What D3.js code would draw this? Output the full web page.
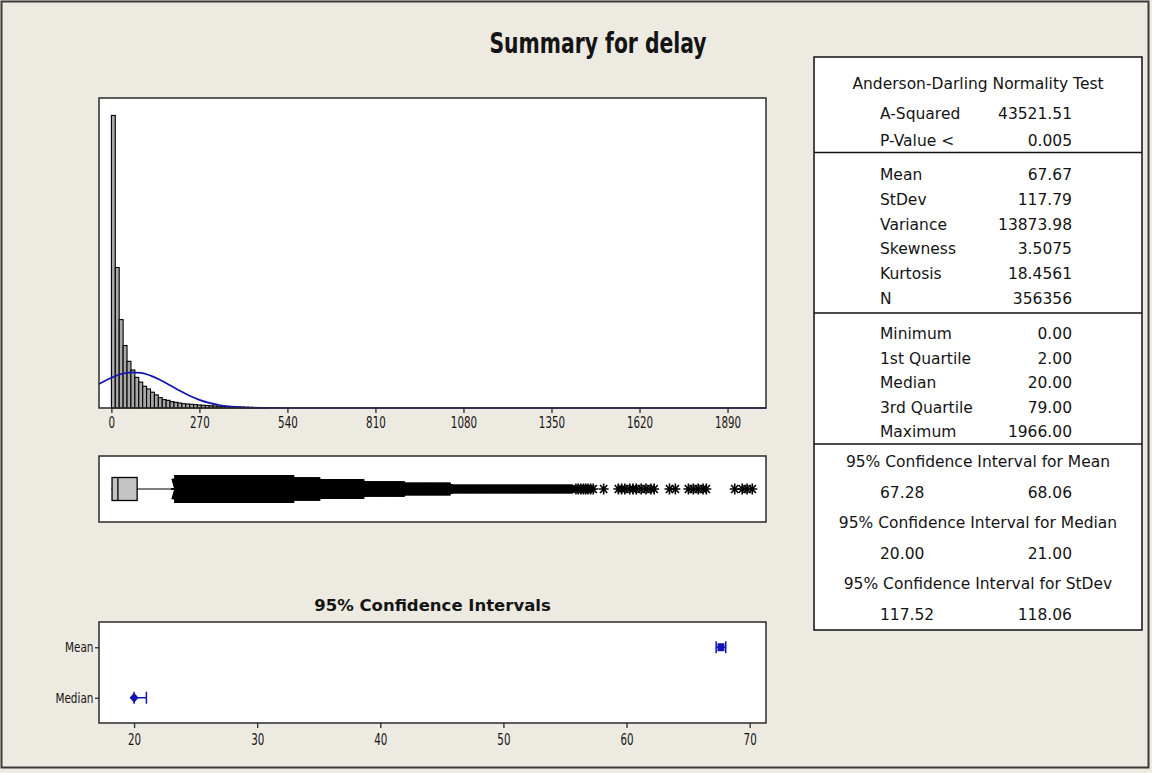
<!DOCTYPE html>
<html><head><meta charset="utf-8">
<script src="https://cdn.jsdelivr.net/npm/d3@7"></script>
<style>html,body{margin:0;padding:0;background:#EDEAE2;} svg{display:block;}</style>
</head><body><svg id="chart" width="1152" height="773"></svg>
<script>
// ---------------- DATA ----------------
const chartTitle = "Summary for delay";
const histBinStarts = [0,12,24,36,48,60,72,84,96,108,120,132,144,156,168,180,192,204,216,228,240,252,264,276,288,300,312,324,336,348,360,372,384,396,408,420,432,444,456,468];
const histBinWidth = 12;
const histCounts = [118500,56900,35800,25300,18900,15400,12400,10500,8800,7700,6400,5300,4200,3400,3100,2550,2300,2000,1750,1600,1500,1350,1200,1100,1000,900,820,750,680,600,540,480,420,370,320,280,240,200,160,130];
const histTicks = [0,270,540,810,1080,1350,1620,1890];
const normalCurveX = [-38,0,30,60,90,120,150,180,210,240,270,300,330,360,400,450,500,560,620,2008];
const normalCurveY = [9690,12280,13760,14450,14230,13120,11350,9190,6980,4970,3310,2070,1210,670,270,75,17,2,0,0];

const boxQuartiles = [2, 20, 79];          // Q1, median, Q3
const boxWhiskers = [0, 194];               // lower, upper whisker ends
const outlierRuns = [[195,560,300],[560,640,90],[640,775,40],[775,900,14],[900,1040,7],[1040,1415,3]]; // [from, to, count per value]
const outlierSingles = [1425,1432,1440,1448,1455,1462,1470,1478,1510,1555,1565,1575,1590,1600,1610,1625,1640,1655,1665,1712,1730,1770,1785,1800,1815,1825,1912,1935,1950,1966];

const ciCategories = ["Mean","Median"];
const ciCenters = [67.67, 20.00];
const ciLower = [67.28, 20.00];
const ciUpper = [68.06, 21.00];
const ciTicks = [20,30,40,50,60,70];

const adLabels = ["A-Squared","P-Value <"];
const adValues = ["43521.51","0.005"];
const momentLabels = ["Mean","StDev","Variance","Skewness","Kurtosis","N"];
const momentValues = ["67.67","117.79","13873.98","3.5075","18.4561","356356"];
const quantileLabels = ["Minimum","1st Quartile","Median","3rd Quartile","Maximum"];
const quantileValues = ["0.00","2.00","20.00","79.00","1966.00"];
const ciHeaders = ["95% Confidence Interval for Mean","95% Confidence Interval for Median","95% Confidence Interval for StDev"];
const ciTableLower = ["67.28","20.00","117.52"];
const ciTableUpper = ["68.06","21.00","118.06"];

// ---------------- DRAW ----------------
const svg = d3.select("#chart");
const BG = "#EDEAE2", INK = "#141414", BLUE = "#1414B4", FRAME = "#2b2b2b";
const narrow = "'Liberation Sans Narrow','DejaVu Sans Condensed',sans-serif";
const sans = "'DejaVu Sans',Verdana,sans-serif";

svg.append("rect").attr("x",0).attr("y",0).attr("width",1152).attr("height",773).attr("fill",BG);
svg.append("rect").attr("x",1.5).attr("y",1.5).attr("width",1147).attr("height",766)
  .attr("fill","none").attr("stroke","#3a3a3a").attr("stroke-width",2);

svg.append("text").attr("transform","translate(598,53) scale(0.78,1)").attr("text-anchor","middle")
  .attr("font-family",narrow).attr("font-weight","bold").attr("font-size",29).attr("fill",INK)
  .text(chartTitle);

// Histogram panel
const H = {l:99, r:766, t:98, b:408};
const x = d3.scaleLinear().domain([-38, 2008]).range([H.l, H.r]);
const y = d3.scaleLinear().domain([0, 125550]).range([H.b, H.t]);
svg.append("rect").attr("x",H.l).attr("y",H.t).attr("width",H.r-H.l).attr("height",H.b-H.t).attr("fill","#fff");

svg.append("g").selectAll("rect").data(histBinStarts).join("rect")
  .attr("x", d => x(d)).attr("width", d => x(d+histBinWidth)-x(d))
  .attr("y", (d,i) => y(histCounts[i])).attr("height", (d,i) => H.b - y(histCounts[i]))
  .attr("fill","#A8A8A8").attr("stroke","#000").attr("stroke-width",1.1);

const curvePts = normalCurveX.map((v,i)=>[v, normalCurveY[i]]);
svg.append("path").datum(curvePts)
  .attr("d", d3.line().x(d=>x(d[0])).y(d=>y(d[1])).curve(d3.curveMonotoneX))
  .attr("fill","none").attr("stroke",BLUE).attr("stroke-width",1.7);

svg.append("rect").attr("x",H.l).attr("y",H.t).attr("width",H.r-H.l).attr("height",H.b-H.t)
  .attr("fill","none").attr("stroke",FRAME).attr("stroke-width",1.5);

function styleTickText(sel, size){
  sel.selectAll("text").attr("font-family",narrow).attr("font-size",size).attr("fill",INK)
    .attr("transform","scale(0.74,1)");
}
const xAxis = svg.append("g").attr("transform",`translate(0,${H.b})`)
  .call(d3.axisBottom(x).tickValues(histTicks).tickSize(5).tickPadding(4).tickFormat(d3.format("d")));
xAxis.select(".domain").remove();
xAxis.selectAll("line").attr("stroke",FRAME).attr("stroke-width",1.3);
styleTickText(xAxis, 15.5);

// Boxplot panel
const B = {l:99, r:766, t:456, b:522};
const by = 489;
svg.append("rect").attr("x",B.l).attr("y",B.t).attr("width",B.r-B.l).attr("height",B.b-B.t)
  .attr("fill","#fff").attr("stroke",FRAME).attr("stroke-width",1.5);
const bg = svg.append("g");
bg.append("line").attr("x1",x(boxWhiskers[0])).attr("x2",x(boxQuartiles[0])).attr("y1",by).attr("y2",by).attr("stroke","#000");
bg.append("line").attr("x1",x(boxQuartiles[2])).attr("x2",x(boxWhiskers[1])).attr("y1",by).attr("y2",by).attr("stroke","#000").attr("stroke-width",1.2);
bg.append("rect").attr("x",x(boxQuartiles[0])).attr("width",x(boxQuartiles[2])-x(boxQuartiles[0]))
  .attr("y",by-11.5).attr("height",23).attr("fill","#C4C4C4").attr("stroke","#000").attr("stroke-width",1.3);
bg.append("line").attr("x1",x(boxQuartiles[1])).attr("x2",x(boxQuartiles[1])).attr("y1",by-11.5).attr("y2",by+11.5).attr("stroke","#000").attr("stroke-width",1.3);

function asterisk(w,h){
  const a=w*0.36, b=h*0.36;
  return `M${-w/2},0H${w/2}M0,${-h/2}V${h/2}M${-a},${-b}L${a},${b}M${-a},${b}L${a},${-b}`;
}
const hScale = d3.scaleLog().domain([2,300]).range([7,28]).clamp(true);
const runPts = [];
outlierRuns.forEach(([f,t,c]) => { for (let v=f; v<t; v++) runPts.push({v, c}); });
bg.append("g").selectAll("path").data(runPts).join("path")
  .attr("transform", d => `translate(${x(d.v)},${by})`)
  .attr("d", d => asterisk(8, hScale(d.c)))
  .attr("stroke","#000").attr("stroke-width",1.4).attr("fill","none");
bg.append("g").selectAll("path").data(outlierSingles).join("path")
  .attr("transform", d => `translate(${x(d)},${by})`)
  .attr("d", asterisk(10, 11))
  .attr("stroke","#000").attr("stroke-width",1.6).attr("fill","none");

// CI panel
const C = {l:99, r:766, t:622, b:723};
svg.append("text").attr("x",(C.l+C.r)/2).attr("y",611).attr("text-anchor","middle")
  .attr("font-family",sans).attr("font-weight","bold").attr("font-size",16.5).attr("fill",INK)
  .text("95% Confidence Intervals");
const cx = d3.scaleLinear().domain([17.15, 71.33]).range([C.l, C.r]);
const cy = d3.scalePoint().domain(ciCategories).range([C.t, C.b]).padding(0.5);
svg.append("rect").attr("x",C.l).attr("y",C.t).attr("width",C.r-C.l).attr("height",C.b-C.t)
  .attr("fill","#fff").attr("stroke",FRAME).attr("stroke-width",1.5);
const cxAxis = svg.append("g").attr("transform",`translate(0,${C.b})`)
  .call(d3.axisBottom(cx).tickValues(ciTicks).tickSize(5).tickPadding(6));
cxAxis.select(".domain").remove();
cxAxis.selectAll("line").attr("stroke",FRAME).attr("stroke-width",1.3);
styleTickText(cxAxis, 15.5);
const cyAxis = svg.append("g").attr("transform",`translate(${C.l},0)`)
  .call(d3.axisLeft(cy).tickSize(4).tickPadding(3));
cyAxis.select(".domain").remove();
cyAxis.selectAll("line").attr("stroke",FRAME).attr("stroke-width",1.3);
cyAxis.selectAll("text").attr("font-family",narrow).attr("font-size",14.5).attr("fill",INK)
  .attr("transform","scale(0.8,1)");

const ciG = svg.append("g").attr("stroke",BLUE).attr("fill",BLUE);
ciCategories.forEach((cat,i) => {
  const yy = cy(cat);
  ciG.append("line").attr("x1",cx(ciLower[i])).attr("x2",cx(ciUpper[i])).attr("y1",yy).attr("y2",yy).attr("stroke-width",1.5);
  [ciLower[i], ciUpper[i]].forEach(v => ciG.append("line").attr("x1",cx(v)).attr("x2",cx(v)).attr("y1",yy-6).attr("y2",yy+6).attr("stroke-width",1.5));
  if (cat === "Mean") {
    ciG.append("rect").attr("x",cx(ciCenters[i])-3.5).attr("y",yy-4).attr("width",7).attr("height",8).attr("stroke","none");
  } else {
    ciG.append("path").attr("transform",`translate(${cx(ciCenters[i])},${yy})`)
      .attr("d","M0,-5L4.5,0L0,5L-4.5,0Z").attr("stroke","none");
  }
});

// Stats table
const T = {l:814, r:1142, t:57, b:630};
svg.append("rect").attr("x",T.l).attr("y",T.t).attr("width",T.r-T.l).attr("height",T.b-T.t)
  .attr("fill","#fff").attr("stroke","#111").attr("stroke-width",1.5);
[152.5, 313, 444].forEach(yy => svg.append("line").attr("x1",T.l).attr("x2",T.r).attr("y1",yy).attr("y2",yy).attr("stroke","#111").attr("stroke-width",1.5));
const tg = svg.append("g").attr("font-family",sans).attr("font-size",15.5).attr("fill",INK);
const tc = (T.l+T.r)/2, labX = 880, valX = 1072;
tg.append("text").attr("x",tc).attr("y",89).attr("text-anchor","middle").text("Anderson-Darling Normality Test");
function rows(labels, values, y0, dy){
  labels.forEach((lab,i)=>{
    tg.append("text").attr("x",labX).attr("y",y0+i*dy).text(lab);
    tg.append("text").attr("x",valX).attr("y",y0+i*dy).attr("text-anchor","end").text(values[i]);
  });
}
rows(adLabels, adValues, 119, 26.5);
rows(momentLabels, momentValues, 180, 24.8);
rows(quantileLabels, quantileValues, 339, 24.6);
ciHeaders.forEach((h,i)=>{
  const y0 = 467 + i*61;
  tg.append("text").attr("x",tc).attr("y",y0).attr("text-anchor","middle").text(h);
  tg.append("text").attr("x",labX).attr("y",y0+31).text(ciTableLower[i]);
  tg.append("text").attr("x",valX).attr("y",y0+31).attr("text-anchor","end").text(ciTableUpper[i]);
});
</script></body></html>
